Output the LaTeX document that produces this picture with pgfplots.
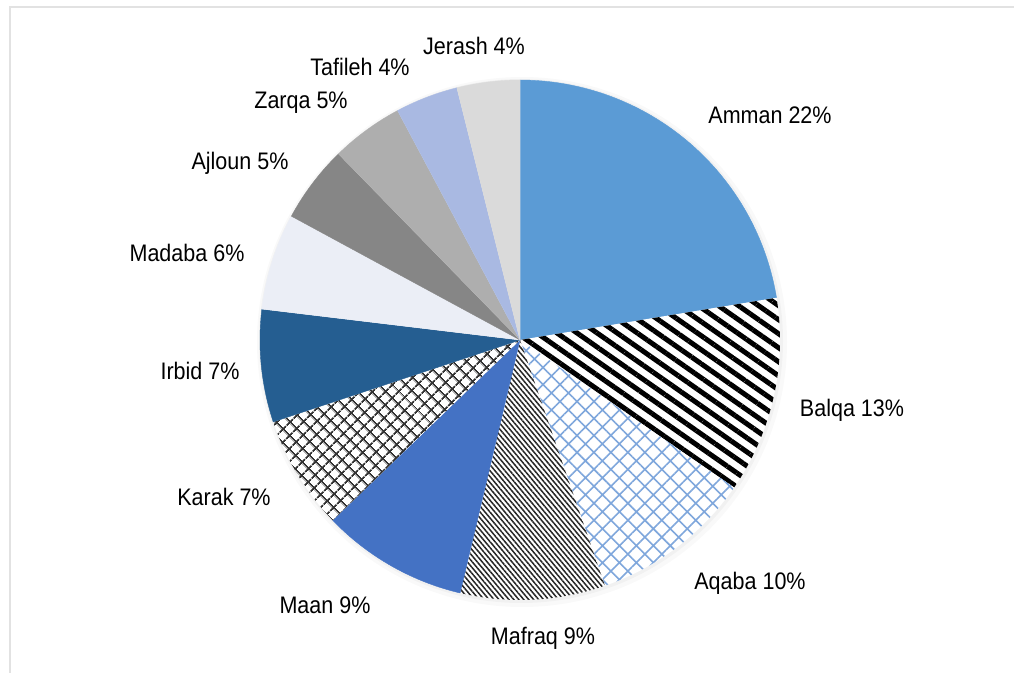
\documentclass[border=0pt]{standalone}
\usepackage{fontspec}
\setmainfont{Liberation Sans}[FakeStretch=0.9]
\usepackage{pgfplots}
\pgfplotsset{compat=1.18}
\usetikzlibrary{patterns.meta}
\definecolor{cAmman}{HTML}{5B9BD5}
\definecolor{cMaan}{HTML}{4472C4}
\definecolor{cIrbid}{HTML}{255E91}
\definecolor{cMadaba}{HTML}{EBEEF6}
\definecolor{cAjloun}{HTML}{868686}
\definecolor{cZarqa}{HTML}{AEAEAE}
\definecolor{cTafileh}{HTML}{A9B9E2}
\definecolor{cJerash}{HTML}{DADADA}
\definecolor{cAqabaLine}{HTML}{7FA7DC}
\definecolor{frame}{HTML}{E2E2E2}
\tikzset{
  sAmman/.style={fill=cAmman, draw=cAmman, line width=0.4bp},
  sBalqa/.style={draw=none, pattern={Lines[angle=-35, distance=11.5bp, line width=5bp]}, pattern color=black},
  sAqaba/.style={draw=none, pattern={Hatch[angle=45, distance=12bp, line width=1.6bp]}, pattern color=cAqabaLine},
  sMafraq/.style={draw=none, pattern={Lines[angle=-50, distance=3.8bp, line width=1.5bp]}, pattern color=black!85},
  sMaan/.style={fill=cMaan, draw=cMaan, line width=0.4bp},
  sKarak/.style={draw=none, pattern={Hatch[angle=45, distance=9.5bp, line width=1.8bp]}, pattern color=black!80},
  sIrbid/.style={fill=cIrbid, draw=cIrbid, line width=0.4bp},
  sMadaba/.style={fill=cMadaba, draw=cMadaba, line width=0.4bp},
  sAjloun/.style={fill=cAjloun, draw=cAjloun, line width=0.4bp},
  sZarqa/.style={fill=cZarqa, draw=cZarqa, line width=0.4bp},
  sTafileh/.style={fill=cTafileh, draw=cTafileh, line width=0.4bp},
  sJerash/.style={fill=cJerash, draw=cJerash, line width=0.4bp},
  lbl/.style={font=\fontsize{24}{28}\selectfont, inner sep=0pt},
}
\begin{document}
\begin{tikzpicture}
\begin{axis}[
  at={(0,0)}, anchor=south west,
  x=1bp, y=1bp, xmin=0, xmax=1014, ymin=0, ymax=673,
  scale only axis, hide axis, clip=false,
]
% soft shadow
\fill[black, opacity=0.025] (axis cs:522,331) circle [radius=265bp];
\fill[black, opacity=0.03] (axis cs:521,332) circle [radius=262bp];
\def\cum{0}
\pgfplotsforeachungrouped \v/\s in {22.4/sAmman,12.2/sBalqa,10.1/sAqaba,9.0/sMafraq,9.1/sMaan,7.1/sKarak,7.0/sIrbid,6.0/sMadaba,4.8/sAjloun,4.5/sZarqa,3.9/sTafileh,3.9/sJerash}{%
  \pgfmathsetmacro\angB{90-3.6*\cum}%
  \pgfmathsetmacro\cum{\cum+\v}%
  \pgfmathsetmacro\angA{90-3.6*\cum}%
  \edef\doslice{\noexpand\addplot[fill=white, draw=none, domain=\angA:\angB, samples=90, variable=\noexpand\t] ({520+260*cos(\noexpand\t)},{333+260*sin(\noexpand\t)}) -- (axis cs:520,333) -- cycle;
  \noexpand\addplot[\s, domain=\angA:\angB, samples=90, variable=\noexpand\t] ({520+260*cos(\noexpand\t)},{333+260*sin(\noexpand\t)}) -- (axis cs:520,333) -- cycle;}%
  \doslice
}
\node[lbl] at (axis cs:770,558) {Amman 22\%};
\node[lbl] at (axis cs:852,263) {Balqa 13\%};
\node[lbl] at (axis cs:750,90) {Aqaba 10\%};
\node[lbl] at (axis cs:543,35) {Mafraq 9\%};
\node[lbl] at (axis cs:325,68) {Maan 9\%};
\node[lbl] at (axis cs:224,176) {Karak 7\%};
\node[lbl] at (axis cs:200,302) {Irbid 7\%};
\node[lbl] at (axis cs:187,420) {Madaba 6\%};
\node[lbl] at (axis cs:240,510) {Ajloun 5\%};
\node[lbl] at (axis cs:301,570) {Zarqa 5\%};
\node[lbl] at (axis cs:360,606) {Tafileh 4\%};
\node[lbl] at (axis cs:474,627) {Jerash 4\%};
\end{axis}
\draw[frame, line width=2.2bp] (10bp,-30bp) rectangle (1050bp,666bp);
\pgfresetboundingbox
\path[use as bounding box] (0,0) rectangle (1014bp,673bp);
\end{tikzpicture}
\end{document}
